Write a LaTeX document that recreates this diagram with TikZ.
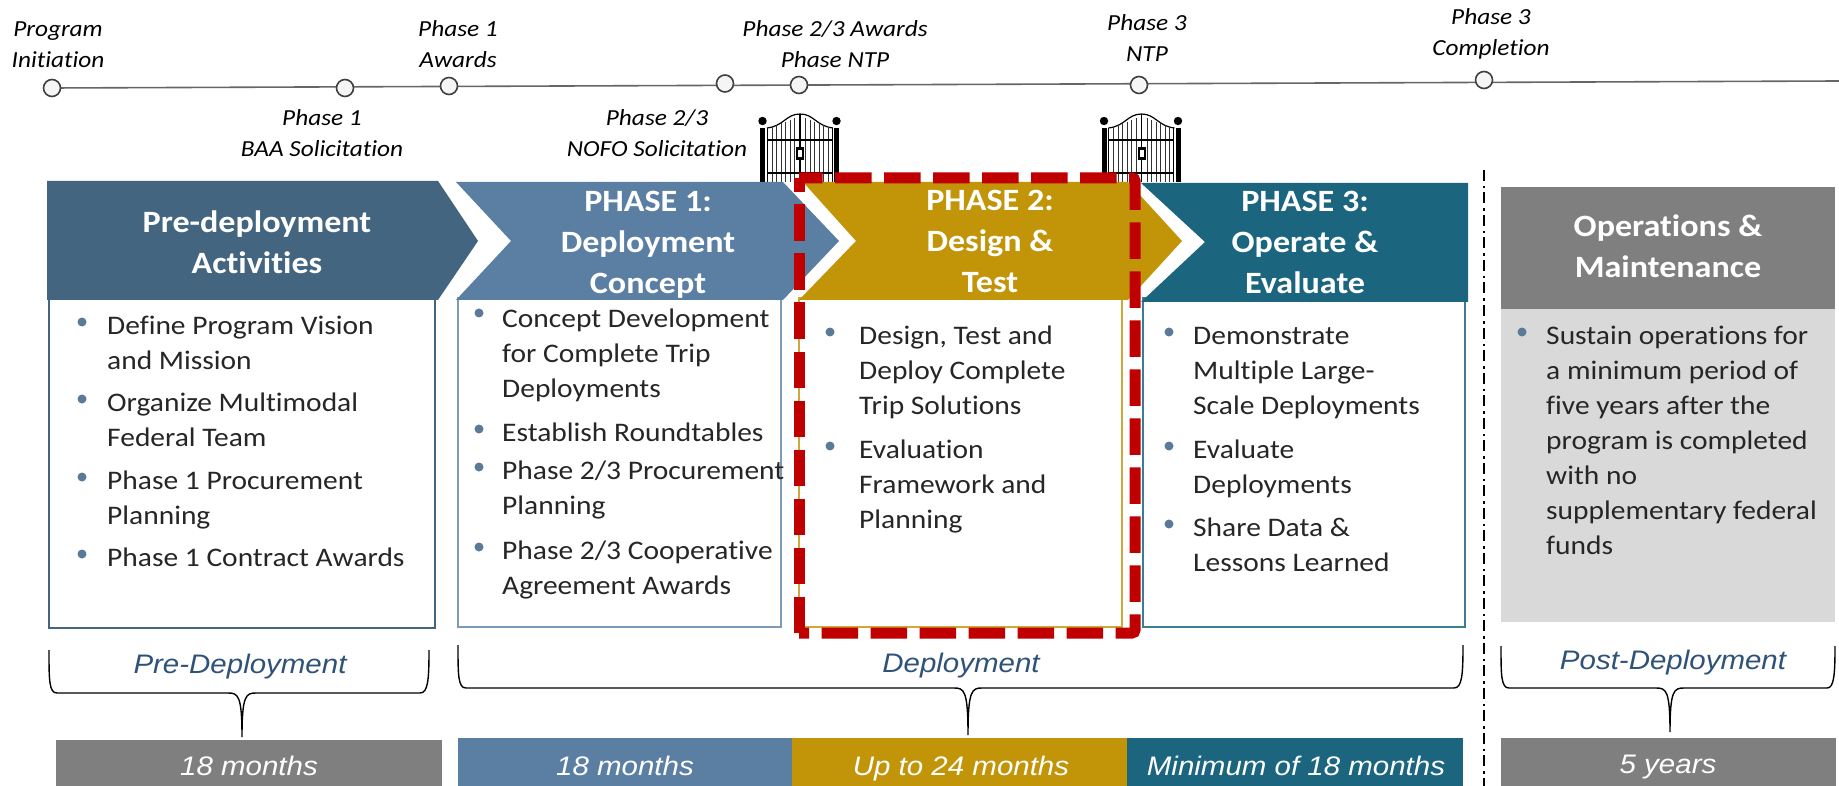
\documentclass[tikz,border=0pt]{standalone}
\usepackage{fontspec}
\setmainfont[FakeStretch=1.1,Ligatures=NoCommon]{Carlito}
\newfontfamily\arialf[FakeStretch=1.1]{Liberation Sans}
\definecolor{cPre}{HTML}{44657F}
\definecolor{cOne}{HTML}{5B7FA3}
\definecolor{cTwo}{HTML}{C29408}
\definecolor{cThree}{HTML}{1C657F}
\definecolor{cGray}{HTML}{7F7F7F}
\definecolor{cLight}{HTML}{D9D9D9}
\definecolor{cRed}{HTML}{C00000}
\definecolor{cLabel}{HTML}{2F5378}
\definecolor{cBullet}{HTML}{5B7A99}
\tikzset{
  x=1pt,y=-1pt,
  msnode/.style={circle,draw=black!75,fill=black!4,line width=1.6pt,minimum size=17pt,inner sep=0pt},
  tllabel/.style={inner sep=0pt,align=center,font=\fontsize{23}{31}\selectfont\itshape,anchor=north},
  headtxt/.style={inner sep=0pt,align=center,text=white,font=\fontsize{31}{41}\selectfont\bfseries,anchor=north},
  bodytxt/.style={inner sep=0pt,align=left,anchor=north west,text=black!85,font=\fontsize{26.8}{35}\selectfont},
  bdot/.style={circle,fill=cBullet,minimum size=9pt,inner sep=0pt},
  grouptxt/.style={inner sep=0pt,anchor=base,text=cLabel,font=\arialf\fontsize{26.8}{30}\selectfont\itshape},
  bartxt/.style={inner sep=0pt,anchor=base,text=white,font=\arialf\fontsize{26.8}{30}\selectfont\itshape},
  bodybox/.style={fill=white,line width=1.5pt},
  bracket/.style={draw=black,line width=1.4pt},
  reddash/.style={cRed,line width=11pt,rounded corners=3pt},
}
\newcommand{\gatepic}[1]{%
  \begin{scope}[shift={(#1,0)}]
    \fill[black] (-40,128) rectangle (-35,182);
    \fill[black] (34,128) rectangle (39,182);
    \fill[black] (-37.5,121) circle (4.2);
    \fill[black] (36.5,121) circle (4.2);
    \draw[black,line width=1.2pt] (-33,128) .. controls (-16,126) and (-14,114) .. (0,114) .. controls (14,114) and (16,126) .. (33,128);
    \foreach \i in {-28,-23.5,-19,-14.5,-10,-5.5,5.5,10,14.5,19,23.5,28}{
      \draw[black!80,line width=.8pt] (\i,{129-max(0,(1-abs(\i)/33))*13}) -- (\i,182);
    }
    \draw[black,line width=1.8pt] (0,114) -- (0,182);
    \draw[black,line width=1pt] (-33,128) -- (-33,182);
    \draw[black,line width=1pt] (32,128) -- (32,182);
    \draw[black,line width=1.2pt] (-33,140) -- (32,140);
    \draw[black,line width=1.4pt] (-33,173) -- (32,173);
    \fill[black] (-4,147) rectangle (4,160);
    \fill[white] (-2,150) rectangle (2,157);
  \end{scope}%
}
\begin{document}
\begin{tikzpicture}
\useasboundingbox (0,0) rectangle (1839,786);
\fill[white] (0,0) rectangle (1839,786);

% timeline
\coordinate (tlstart) at (52,88);
\coordinate (tlend) at (1839,81);
\draw[black!60,line width=1.6pt] (tlstart) -- (tlend);
\node[msnode] (m1) at (52,88) {};
\node[msnode] (m2) at (345,88) {};
\node[msnode] (m3) at (449,86) {};
\node[msnode] (m4) at (725,83.5) {};
\node[msnode] (m5) at (799,85) {};
\node[msnode] (m6) at (1139,85) {};
\node[msnode] (m7) at (1484,80) {};
\node[tllabel] (l1) at (58,15) {\strut Program\\\strut Initiation};
\node[tllabel] (l2) at (322,104) {\strut Phase 1\\\strut BAA Solicitation};
\node[tllabel] (l3) at (458,15) {\strut Phase 1\\\strut Awards};
\node[tllabel] (l4) at (657,104) {\strut Phase 2/3\\\strut NOFO Solicitation};
\node[tllabel] (l5) at (835,15) {\strut Phase 2/3 Awards\\\strut Phase NTP};
\node[tllabel] (l6) at (1147,9) {\strut Phase 3\\\strut NTP};
\node[tllabel] (l7) at (1491,3) {\strut Phase 3\\\strut Completion};

% gates
\gatepic{800}
\gatepic{1141.5}

% bodies
\draw[bodybox,draw=cPre] (49,298) rectangle (435,628);
\draw[bodybox,draw=cOne!80] (458,298) rectangle (781,627);
\draw[bodybox,draw=cTwo!80] (799,298) rectangle (1122,627);
\draw[bodybox,draw=cThree!85] (1143,298) rectangle (1465,627);
\fill[cLight] (1501,309) rectangle (1835,622);

% header shapes
\fill[cPre] (47,181) -- (438,181) -- (478,241) -- (438,300) -- (47,300) -- cycle;
\fill[cOne] (456,182) -- (783,182) -- (839,241) -- (783,300) -- (456,300) -- (511,241) -- cycle;
\fill[cTwo] (803,182) -- (1128,182) -- (1182,241) -- (1128,300) -- (799,300) -- (856,241) -- cycle;
\fill[cThree] (1141,183) -- (1468,183) -- (1468,302) -- (1141,302) -- (1205,242) -- cycle;
\fill[cGray] (1501,187) rectangle (1835,309);

% header text
\node[headtxt] (h0) at (257,204) {\strut Pre-deployment\\\strut Activities};
\node[headtxt] (h1) at (648,183) {\strut PHASE 1:\\\strut Deployment\\\strut Concept};
\node[headtxt] (h2) at (990,182) {\strut PHASE 2:\\\strut Design \&\\\strut Test};
\node[headtxt] (h3) at (1305,183) {\strut PHASE 3:\\\strut Operate \&\\\strut Evaluate};
\node[headtxt] (h4) at (1668,208) {\strut Operations \&\\\strut Maintenance};

% bullets: Pre
\node[bdot] (d01) at (82,322) {};
\node[bodytxt] (t01) at (107,310) {\strut Define Program Vision\\\strut and Mission};
\node[bdot] (d02) at (82,399) {};
\node[bodytxt] (t02) at (107,387) {\strut Organize Multimodal\\\strut Federal Team};
\node[bdot] (d03) at (82,477) {};
\node[bodytxt] (t03) at (107,465) {\strut Phase 1 Procurement\\\strut Planning};
\node[bdot] (d04) at (82,554) {};
\node[bodytxt] (t04) at (107,542) {\strut Phase 1 Contract Awards};
% bullets: Phase 1
\node[bdot] (d11) at (479,313) {};
\node[bodytxt] (t11) at (502,303) {\strut Concept Development\\\strut for Complete Trip\\\strut Deployments};
\node[bdot] (d12) at (479,429) {};
\node[bodytxt] (t12) at (502,417) {\strut Establish Roundtables};
\node[bdot] (d13) at (479,467) {};
\node[bodytxt] (t13) at (502,455) {\strut Phase 2/3 Procurement\\\strut Planning};
\node[bdot] (d14) at (479,547) {};
\node[bodytxt] (t14) at (502,535) {\strut Phase 2/3 Cooperative\\\strut Agreement Awards};
% bullets: Phase 2
\node[bdot] (d21) at (830,332) {};
\node[bodytxt] (t21) at (859,320) {\strut Design, Test and\\\strut Deploy Complete\\\strut Trip Solutions};
\node[bdot] (d22) at (830,446) {};
\node[bodytxt] (t22) at (859,434) {\strut Evaluation\\\strut Framework and\\\strut Planning};
% bullets: Phase 3
\node[bdot] (d31) at (1169,332) {};
\node[bodytxt] (t31) at (1193,320) {\strut Demonstrate\\\strut Multiple Large-\\\strut Scale Deployments};
\node[bdot] (d32) at (1169,446) {};
\node[bodytxt] (t32) at (1193,434) {\strut Evaluate\\\strut Deployments};
\node[bdot] (d33) at (1169,524) {};
\node[bodytxt] (t33) at (1193,512) {\strut Share Data \&\\\strut Lessons Learned};
% bullets: Ops
\node[bdot] (d41) at (1522,332) {};
\node[bodytxt] (t41) at (1546,320) {\strut Sustain operations for\\\strut a minimum period of\\\strut five years after the\\\strut program is completed\\\strut with no\\\strut supplementary federal\\\strut funds};

% red dashed rectangle
\draw[reddash,dash pattern=on 36.5pt off 12.5pt,dash phase=13pt] (799,178) -- (1135,178) -- (1135,633) -- (799,633);
\draw[reddash,dash pattern=on 36.5pt off 12.5pt,dash phase=22.5pt] (799,178) -- (799,633);

% vertical separator
\coordinate (septop) at (1484,170);
\coordinate (sepbot) at (1484,786);
\draw[black,line width=1.6pt,dash pattern=on 11pt off 5pt on 2.5pt off 4pt] (septop) -- (sepbot);

% brackets
\draw[bracket] (49,650) .. controls (49,680) and (49,693) .. (57,693) -- (228,693) .. controls (238,693) and (242,695) .. (242,737) .. controls (242,695) and (246,693) .. (256,693) -- (420,693) .. controls (428,693) and (429,680) .. (429,650);
\draw[bracket] (458,645) .. controls (458,675) and (458,688) .. (466,688) -- (954,688) .. controls (964,688) and (968,690) .. (968,735) .. controls (968,690) and (972,688) .. (982,688) -- (1454,688) .. controls (1462,688) and (1463,675) .. (1463,645);
\draw[bracket] (1501,646) .. controls (1501,675) and (1501,688) .. (1509,688) -- (1656,688) .. controls (1666,688) and (1670,690) .. (1670,732) .. controls (1670,690) and (1674,688) .. (1684,688) -- (1827,688) .. controls (1834,688) and (1835,675) .. (1835,646);

\node[grouptxt] (g1) at (240,673) {Pre-Deployment};
\node[grouptxt] (g2) at (961,672) {Deployment};
\node[grouptxt] (g3) at (1673,669) {Post-Deployment};

% duration bars
\fill[cGray] (56,740) rectangle (442,786);
\fill[cOne] (458,738) rectangle (792,786);
\fill[cTwo] (792,738) rectangle (1127,786);
\fill[cThree] (1127,738) rectangle (1463,786);
\fill[cGray] (1501,738) rectangle (1836,786);
\node[bartxt] (b1) at (249,775) {18 months};
\node[bartxt] (b2) at (625,775) {18 months};
\node[bartxt] (b3) at (961,775) {Up to 24 months};
\node[bartxt] (b4) at (1296,775) {Minimum of 18 months};
\node[bartxt] (b5) at (1668,773) {5 years};
\end{tikzpicture}
\end{document}
